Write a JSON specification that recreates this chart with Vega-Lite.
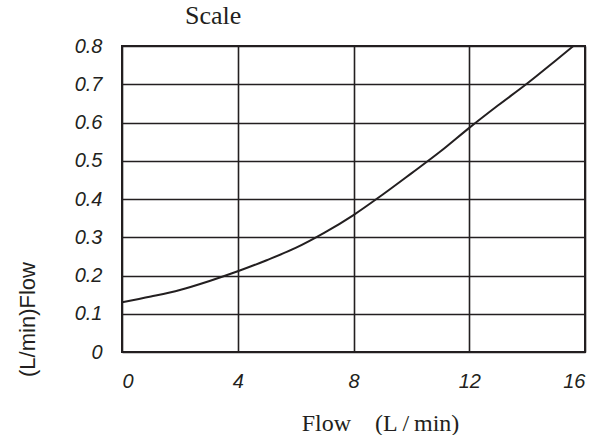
{
  "$schema": "https://vega.github.io/schema/vega-lite/v6.json",
  "autosize": "none",
  "width": 463,
  "height": 306,
  "padding": {"left": 122, "top": 46, "right": 15, "bottom": 83},
  "background": "white",
  "title": {
    "text": "Scale",
    "anchor": "start",
    "frame": "group",
    "dx": 63,
    "offset": 7,
    "font": "Liberation Serif",
    "fontSize": 26,
    "fontWeight": "normal",
    "color": "#231f20"
  },
  "config": {
    "view": {"stroke": "#231f20", "strokeWidth": 2},
    "axis": {
      "grid": true,
      "gridColor": "#231f20",
      "gridWidth": 1.6,
      "gridOpacity": 1,
      "domain": false,
      "ticks": false,
      "labelFont": "Liberation Sans",
      "labelFontStyle": "italic",
      "labelFontSize": 20,
      "labelColor": "#231f20"
    }
  },
  "data": {
    "values": [
      {"x": 0, "y": 0.13},
      {"x": 1, "y": 0.145},
      {"x": 2, "y": 0.162},
      {"x": 3, "y": 0.185},
      {"x": 4, "y": 0.211},
      {"x": 5, "y": 0.24},
      {"x": 6, "y": 0.272},
      {"x": 7, "y": 0.312},
      {"x": 8, "y": 0.358},
      {"x": 9, "y": 0.411},
      {"x": 10, "y": 0.467},
      {"x": 11, "y": 0.524},
      {"x": 12, "y": 0.586},
      {"x": 13, "y": 0.645},
      {"x": 14, "y": 0.702},
      {"x": 15, "y": 0.763},
      {"x": 15.6, "y": 0.8}
    ]
  },
  "mark": {"type": "line", "color": "#231f20", "strokeWidth": 2, "interpolate": "monotone", "clip": true},
  "encoding": {
    "x": {
      "field": "x",
      "type": "quantitative",
      "scale": {"domain": [0, 16], "nice": false, "zero": false},
      "axis": {
        "values": [0, 4, 8, 12, 16],
        "labelPadding": 19,
        "title": "Flow\u00a0\u00a0\u00a0\u00a0(L\u2009/\u2009min)",
        "titleFont": "Liberation Serif",
        "titleFontSize": 24,
        "titleFontWeight": "normal",
        "titleColor": "#231f20",
        "titleX": 258,
        "titleY": 71,
        "titleBaseline": "middle",
        "titleAlign": "center"
      }
    },
    "y": {
      "field": "y",
      "type": "quantitative",
      "scale": {"domain": [0, 0.8], "nice": false},
      "axis": {
        "values": [0, 0.1, 0.2, 0.3, 0.4, 0.5, 0.6, 0.7, 0.8],
        "labelExpr": "datum.value == 0 ? '0' : format(datum.value, '.1f')",
        "labelPadding": 20,
        "title": "(L/min)Flow",
        "titleFont": "Liberation Sans",
        "titleFontSize": 22,
        "titleFontWeight": "normal",
        "titleColor": "#231f20",
        "titleAngle": -90,
        "titleX": -95,
        "titleY": 273,
        "titleBaseline": "middle",
        "titleAlign": "center"
      }
    }
  }
}
